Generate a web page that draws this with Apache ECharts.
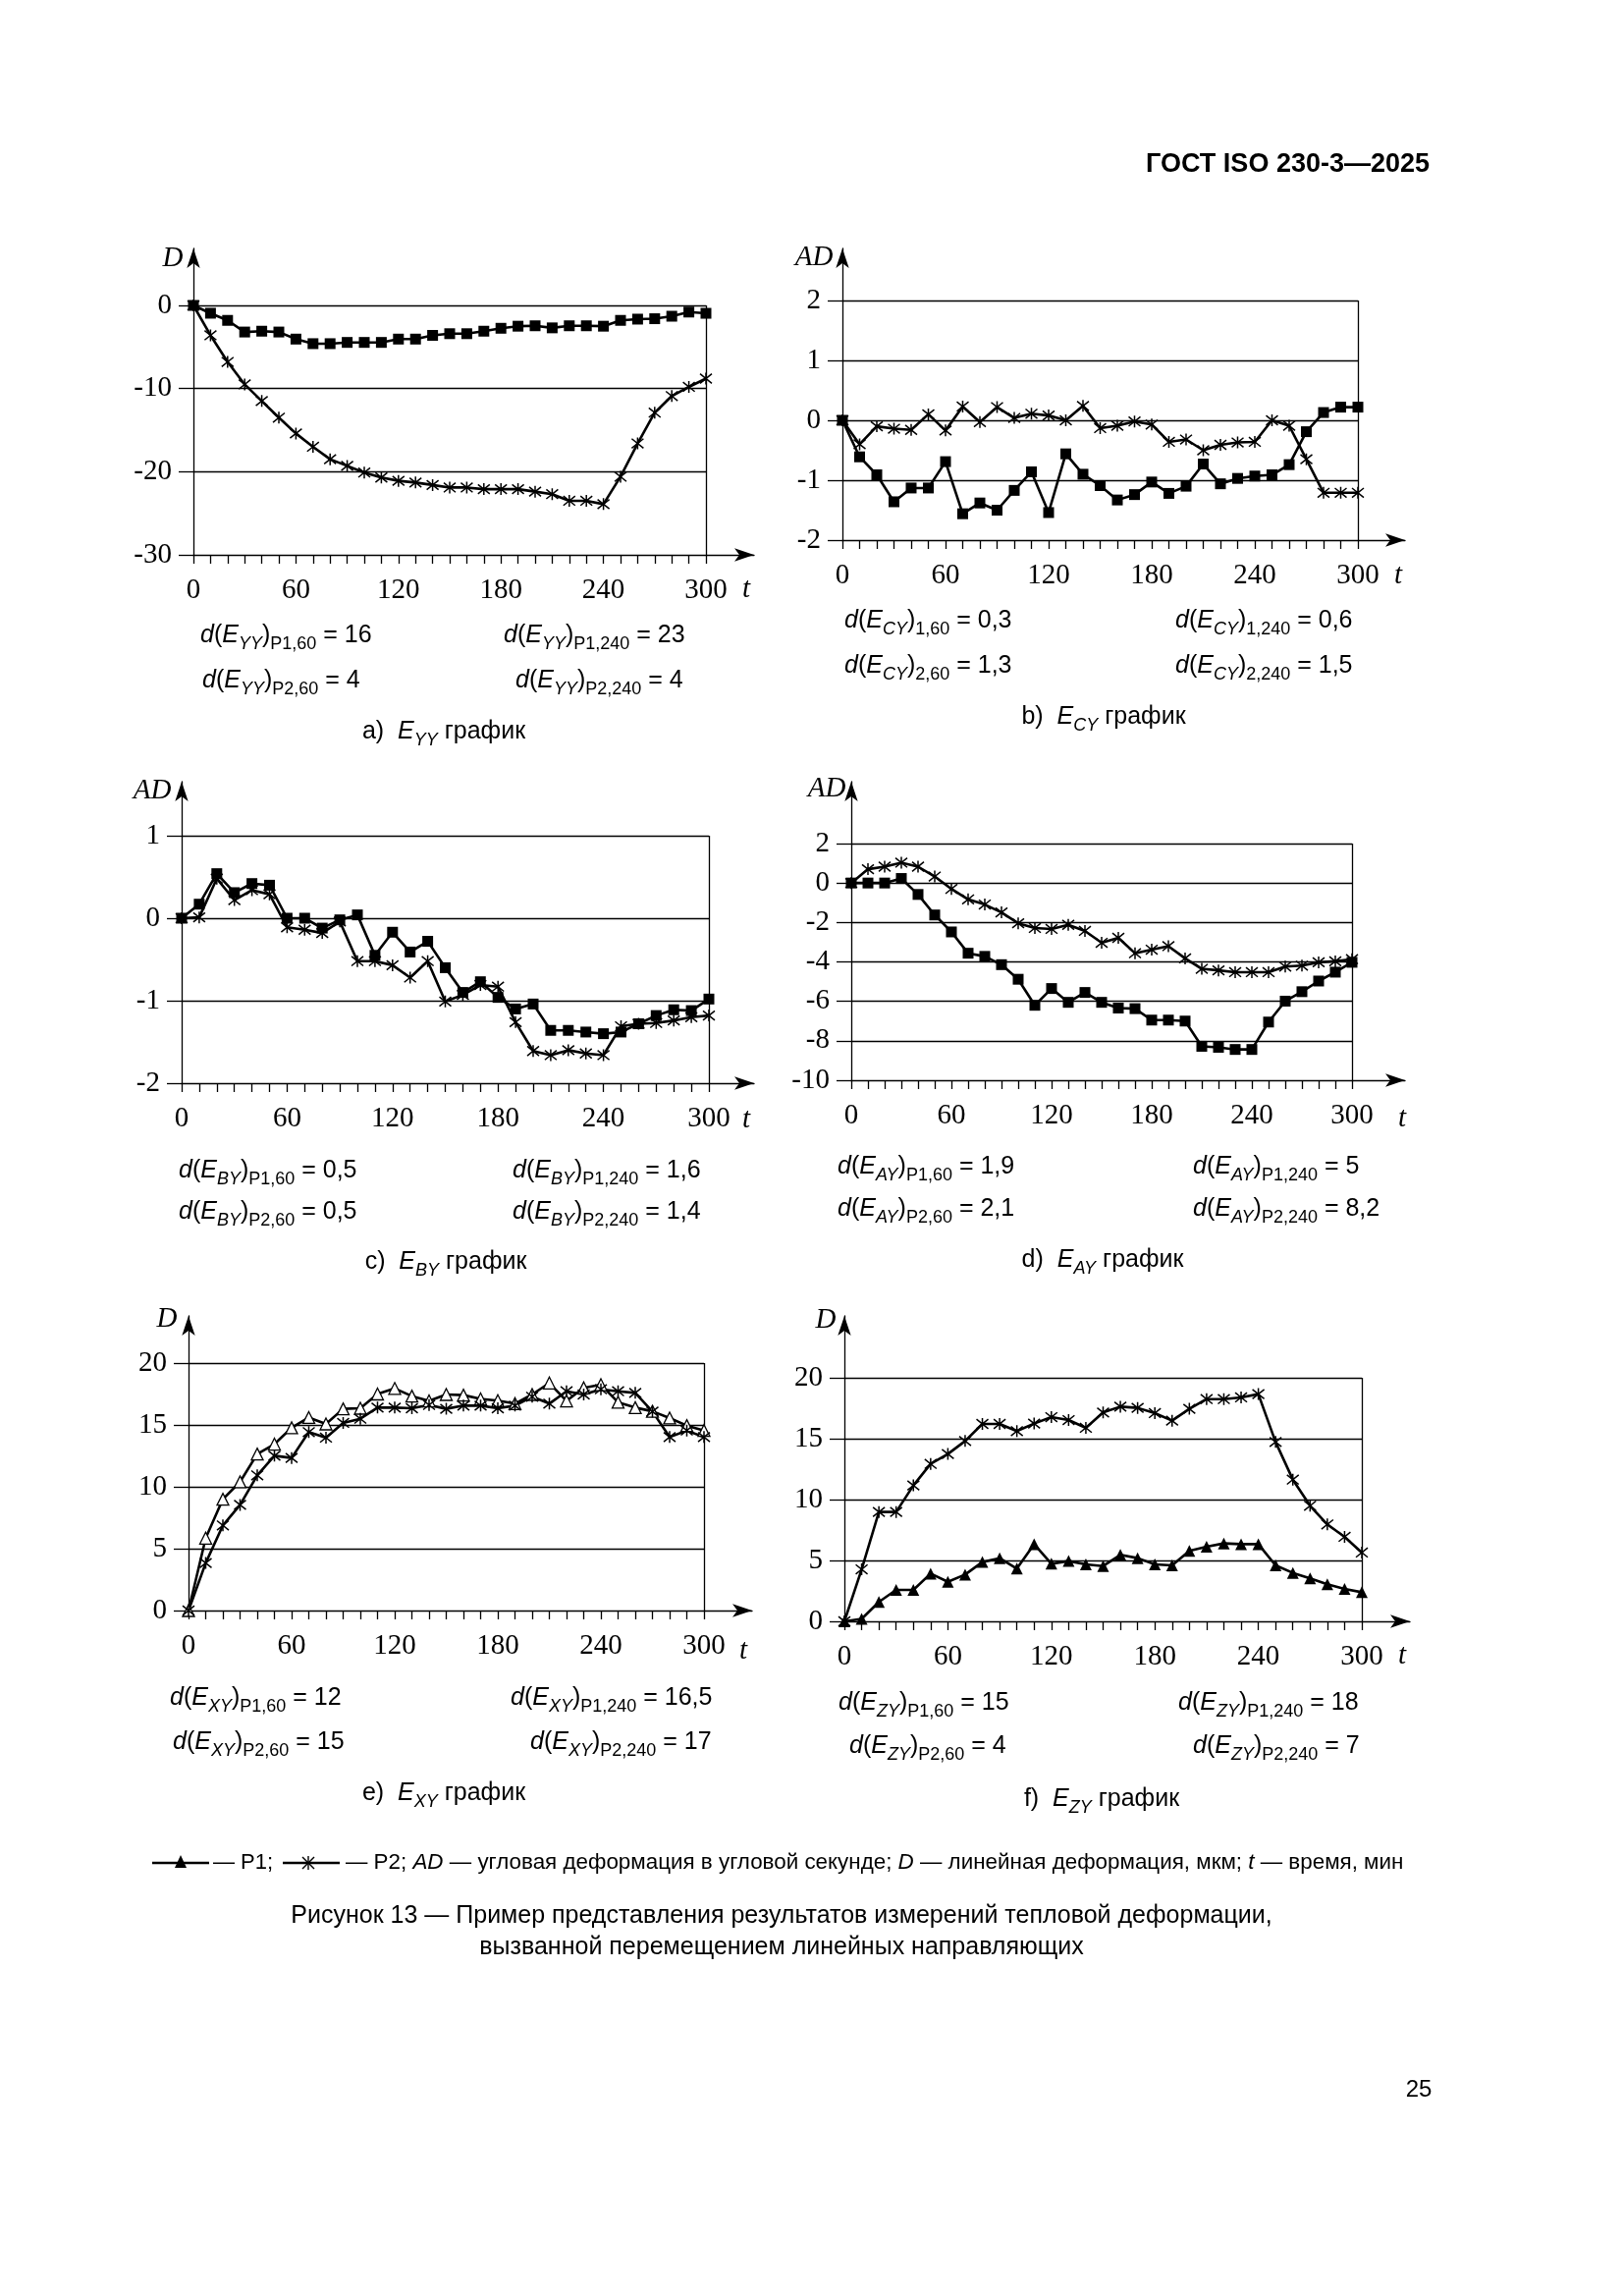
<!DOCTYPE html>
<html><head><meta charset="utf-8">
<script src="https://cdn.jsdelivr.net/npm/echarts@6/dist/echarts.min.js"></script>
<style>html,body{margin:0;padding:0;background:#fff}#c{width:1653px;height:2338px}</style>
</head><body><div id="c"></div>
<script>
// ---------- data ----------
const T = [0,10,20,30,40,50,60,70,80,90,100,110,120,130,140,150,160,170,180,190,200,210,220,230,240,250,260,270,280,290,300];
const xTickLabels = [0,60,120,180,240,300];

// a) E_YY
const aYTicks = [-30,-20,-10,0];
const aSquares = [0,-0.94,-1.8,-3.2,-3.1,-3.2,-4.05,-4.6,-4.6,-4.45,-4.45,-4.45,-4.05,-4.05,-3.6,-3.4,-3.4,-3.1,-2.75,-2.5,-2.45,-2.7,-2.45,-2.45,-2.5,-1.8,-1.65,-1.6,-1.3,-0.8,-0.95];
const aStars = [0,-3.6,-6.8,-9.5,-11.5,-13.5,-15.4,-17.0,-18.5,-19.3,-20.1,-20.7,-21.1,-21.3,-21.6,-21.9,-21.9,-22.1,-22.1,-22.1,-22.4,-22.7,-23.5,-23.5,-23.9,-20.6,-16.6,-12.9,-10.9,-9.8,-8.8];
const aNotes = ['P1,60 = 16','P1,240 = 23','P2,60 = 4','P2,240 = 4'];

// b) E_CY
const bYTicks = [-2,-1,0,1,2];
const bSquares = [0,-0.61,-0.91,-1.36,-1.13,-1.13,-0.69,-1.56,-1.38,-1.50,-1.17,-0.86,-1.54,-0.56,-0.90,-1.09,-1.33,-1.24,-1.03,-1.22,-1.10,-0.73,-1.06,-0.97,-0.93,-0.91,-0.74,-0.19,0.13,0.22,0.22];
const bStars = [0,-0.40,-0.10,-0.14,-0.16,0.10,-0.17,0.23,-0.03,0.22,0.04,0.11,0.08,0.0,0.24,-0.13,-0.09,-0.02,-0.07,-0.36,-0.32,-0.50,-0.41,-0.37,-0.36,0.0,-0.09,-0.65,-1.21,-1.21,-1.21];
const bNotes = ['1,60 = 0,3','1,240 = 0,6','2,60 = 1,3','2,240 = 1,5'];

// c) E_BY
const cYTicks = [-2,-1,0,1];
const cSquares = [0,0.17,0.54,0.31,0.42,0.40,0.0,0.0,-0.12,-0.02,0.04,-0.45,-0.17,-0.41,-0.28,-0.60,-0.90,-0.77,-0.96,-1.10,-1.04,-1.36,-1.36,-1.38,-1.40,-1.38,-1.28,-1.18,-1.11,-1.12,-0.98];
const cStars = [0,0.01,0.48,0.22,0.34,0.29,-0.11,-0.14,-0.18,-0.04,-0.52,-0.52,-0.57,-0.72,-0.52,-1.01,-0.93,-0.81,-0.83,-1.26,-1.61,-1.66,-1.60,-1.64,-1.66,-1.31,-1.28,-1.27,-1.24,-1.20,-1.18];
const cNotes = ['P1,60 = 0,5','P1,240 = 1,6','P2,60 = 0,5','P2,240 = 1,4'];

// d) E_AY
const dYTicks = [-10,-8,-6,-4,-2,0,2];
const dSquares = [0,0,0,0.23,-0.58,-1.62,-2.48,-3.56,-3.72,-4.14,-4.88,-6.2,-5.35,-6.05,-5.55,-6.05,-6.34,-6.37,-6.95,-6.95,-7.0,-8.28,-8.33,-8.44,-8.44,-7.05,-5.99,-5.51,-4.97,-4.52,-4.02];
const dStars = [0,0.70,0.83,1.03,0.83,0.33,-0.30,-0.83,-1.09,-1.49,-2.04,-2.28,-2.33,-2.12,-2.43,-3.03,-2.78,-3.56,-3.38,-3.2,-3.82,-4.35,-4.43,-4.52,-4.52,-4.52,-4.24,-4.19,-4.02,-3.97,-3.86];
const dNotes = ['P1,60 = 1,9','P1,240 = 5','P2,60 = 2,1','P2,240 = 8,2'];

// e) E_XY
const eYTicks = [0,5,10,15,20];
const eTriangles = [0,5.85,9.0,10.4,12.65,13.45,14.77,15.6,15.08,16.3,16.35,17.5,17.95,17.33,16.94,17.46,17.41,17.1,16.96,16.72,17.46,18.39,16.94,18.0,18.25,16.83,16.4,16.1,15.56,14.95,14.55];
const eStars = [0,3.84,6.88,8.54,10.93,12.51,12.33,14.42,13.97,15.16,15.5,16.4,16.4,16.35,16.61,16.3,16.56,16.56,16.35,16.56,17.28,16.72,17.72,17.46,17.88,17.72,17.59,16.08,14.02,14.55,14.02];
const eNotes = ['P1,60 = 12','P1,240 = 16,5','P2,60 = 15','P2,240 = 17'];

// f) E_ZY
const fYTicks = [0,5,10,15,20];
const fStars = [0,4.27,8.98,8.98,11.16,12.93,13.74,14.81,16.21,16.21,15.62,16.24,16.77,16.53,15.89,17.15,17.63,17.53,17.1,16.48,17.45,18.25,18.25,18.39,18.66,14.73,11.64,9.49,7.96,6.94,5.65];
const fTriangles = [0,0.2,1.59,2.58,2.58,3.92,3.25,3.84,4.87,5.19,4.33,6.34,4.73,4.95,4.68,4.54,5.46,5.19,4.68,4.6,5.78,6.13,6.4,6.34,6.34,4.6,3.98,3.52,3.04,2.66,2.39];
const fNotes = ['P1,60 = 15','P1,240 = 18','P2,60 = 4','P2,240 = 7'];

// ---------- layout / style ----------
const SERIF = "'Liberation Serif','DejaVu Serif',serif";
const SANS = "'Liberation Sans',Arial,sans-serif";
const STAR = 'path://M1,1L9,9M9,1L1,9M5,0L5,10';
const RICH = {
  n:{fontFamily:SANS, fontSize:25, color:'#000', lineHeight:36, verticalAlign:'middle'},
  i:{fontFamily:SANS, fontSize:25, fontStyle:'italic', color:'#000', lineHeight:36, verticalAlign:'middle'},
  s:{fontFamily:SANS, fontSize:18, color:'#000', lineHeight:19, verticalAlign:'bottom'},
  si:{fontFamily:SANS, fontSize:18, fontStyle:'italic', color:'#000', lineHeight:19, verticalAlign:'bottom'}
};

const panels = [
  {letter:'a', E:'YY', yName:'D',  yTicks:aYTicks, notes:aNotes, L:{x0:197,x1:719,yT:311,yB:565,extR:49,extU:58},
   nameXY:[176,263], tXY:[760,600], notePos:[[204,647],[513,647],[206,693],[525,693]], cap:[452,745],
   series:[{d:aSquares,k:'square'},{d:aStars,k:'star'}]},
  {letter:'b', E:'CY', yName:'AD', yTicks:bYTicks, notes:bNotes, L:{x0:858,x1:1383,yT:306,yB:550,extR:48,extU:53},
   nameXY:[829,262], tXY:[1424,586], notePos:[[860,632],[1197,632],[860,678],[1197,678]], cap:[1124,730],
   series:[{d:bSquares,k:'square'},{d:bStars,k:'star'}]},
  {letter:'c', E:'BY', yName:'AD', yTicks:cYTicks, notes:cNotes, L:{x0:185,x1:722,yT:851,yB:1103,extR:46,extU:55},
   nameXY:[155,805], tXY:[760,1140], notePos:[[182,1192],[522,1192],[182,1234],[522,1234]], cap:[454,1285],
   series:[{d:cSquares,k:'square'},{d:cStars,k:'star'}]},
  {letter:'d', E:'AY', yName:'AD', yTicks:dYTicks, notes:dNotes, L:{x0:867,x1:1377,yT:859,yB:1100,extR:54,extU:63},
   nameXY:[842,803], tXY:[1428,1139], notePos:[[853,1188],[1215,1188],[853,1231],[1215,1231]], cap:[1123,1283],
   series:[{d:dSquares,k:'square'},{d:dStars,k:'star'}]},
  {letter:'e', E:'XY', yName:'D',  yTicks:eYTicks, notes:eNotes, L:{x0:192,x1:717,yT:1388,yB:1640,extR:49,extU:48},
   nameXY:[170,1343], tXY:[757,1681], notePos:[[173,1729],[520,1729],[176,1774],[540,1774]], cap:[452,1826],
   series:[{d:eTriangles,k:'triOpen'},{d:eStars,k:'star'}]},
  {letter:'f', E:'ZY', yName:'D',  yTicks:fYTicks, notes:fNotes, L:{x0:860,x1:1387,yT:1403,yB:1651,extR:49,extU:63},
   nameXY:[841,1344], tXY:[1428,1686], notePos:[[854,1734],[1200,1734],[865,1778],[1215,1778]], cap:[1122,1832],
   series:[{d:fStars,k:'star'},{d:fTriangles,k:'triFilled'}]}
];

const AX = {color:'#000', width:1.3};
function markerStyle(k){
  const line = {color:'#000', width:2.6};
  if (k==='square') return {symbol:'rect', symbolSize:11, itemStyle:{color:'#000'}, lineStyle:line};
  if (k==='star') return {symbol:STAR, symbolSize:12, itemStyle:{color:'#000', borderColor:'#000', borderWidth:1.5}, lineStyle:line};
  if (k==='triFilled') return {symbol:'triangle', symbolSize:12, itemStyle:{color:'#000'}, lineStyle:line};
  return {symbol:'triangle', symbolSize:12, itemStyle:{color:'#fff', borderColor:'#000', borderWidth:1.3}, lineStyle:line};
}
function txt(x,y,text,font,align){
  return {type:'text', x, y, style:{text, fill:'#000', font, align, verticalAlign:'middle', textAlign:align, textVerticalAlign:'middle'}};
}
function rtxt(x,y,text,rich,align){
  return {type:'text', x, y, style:{text, rich, align, verticalAlign:'middle', textAlign:align, textVerticalAlign:'middle'}};
}

const grid=[], xAxis=[], yAxis=[], series=[], graphic=[];
panels.forEach((p,i)=>{
  const L=p.L, bot=p.yTicks[0], top=p.yTicks[p.yTicks.length-1], step=p.yTicks[1]-p.yTicks[0];
  const pxX=(L.x1-L.x0)/300, pxY=(L.yB-L.yT)/(top-bot);
  const xmax=300+L.extR/pxX, ymax=top+L.extU/pxY;
  grid.push({left:L.x0, top:L.yT-L.extU, width:L.x1-L.x0+L.extR, height:L.yB-L.yT+L.extU});
  xAxis.push({gridIndex:i, type:'value', min:0, max:xmax, interval:60,
    axisLine:{show:true, onZero:false, symbol:['none','arrow'], symbolSize:[10,20], lineStyle:AX},
    axisTick:{show:true, customValues:T, length:9, lineStyle:AX},
    axisLabel:{show:true, customValues:xTickLabels, formatter:v=> v<=300.0001? String(v):'', margin:22,
      fontFamily:SERIF, fontSize:29, color:'#000'},
    splitLine:{show:false}, minorTick:{show:false}});
  yAxis.push({gridIndex:i, type:'value', min:bot, max:ymax, interval:step,
    axisLine:{show:true, onZero:false, symbol:['none','arrow'], symbolSize:[10,20], lineStyle:AX},
    axisTick:{show:true, customValues:p.yTicks, length:15, lineStyle:AX},
    axisLabel:{show:true, customValues:p.yTicks, formatter:v=> v<=top+1e-6? String(v):'', margin:22,
      fontFamily:SERIF, fontSize:29, color:'#000'},
    splitLine:{show:false}});
  const gl = p.yTicks.slice(1).map(v=>[{coord:[0,v]},{coord:[300,v]}]);
  gl.push([{coord:[300,bot]},{coord:[300,top]}]);
  p.series.forEach((s,k)=>{
    const st = markerStyle(s.k);
    const ser = Object.assign({type:'line', xAxisIndex:i, yAxisIndex:i, z:10, silent:true, animation:false,
      showSymbol:true, emphasis:{disabled:true}, data:T.map((t,j)=>[t,s.d[j]])}, st);
    if (k===0) ser.markLine = {silent:true, symbol:['none','none'], label:{show:false}, animation:false,
      lineStyle:{color:'#000', width:1.3, type:'solid'}, emphasis:{disabled:true}, data:gl};
    series.push(ser);
  });
  graphic.push(txt(p.nameXY[0], p.nameXY[1], p.yName, `italic 29px ${SERIF}`, 'center'));
  graphic.push(txt(p.tXY[0], p.tXY[1], 't', `italic 29px ${SERIF}`, 'center'));
  p.notes.forEach((nt,k)=>{
    const [sub,val]=nt.split(' = ');
    graphic.push(rtxt(p.notePos[k][0], p.notePos[k][1],
      `{i|d}{n|(}{i|E}{si|${p.E}}{n|)}{s|${sub}}{n| = ${val}}`, RICH, 'left'));
  });
  graphic.push(rtxt(p.cap[0], p.cap[1], `{n|${p.letter})  }{i|E}{si|${p.E}}{n| график}`, RICH, 'center'));
});

// header, legend, caption, page number
graphic.push(txt(1456, 168, 'ГОСТ ISO 230-3—2025', `bold 27px ${SANS}`, 'right'));
const LY = 1897;
graphic.push({type:'line', shape:{x1:155,y1:LY,x2:213,y2:LY}, style:{stroke:'#000', lineWidth:2.5}});
graphic.push({type:'polygon', shape:{points:[[184,LY-8],[190,LY+5],[178,LY+5]]}, style:{fill:'#000'}});
graphic.push(txt(217, LY, '— P1;', `22px ${SANS}`, 'left'));
graphic.push({type:'line', shape:{x1:288,y1:LY,x2:346,y2:LY}, style:{stroke:'#000', lineWidth:2.5}});
graphic.push({type:'line', shape:{x1:308,y1:LY-6,x2:320,y2:LY+6}, style:{stroke:'#000', lineWidth:1.4}});
graphic.push({type:'line', shape:{x1:320,y1:LY-6,x2:308,y2:LY+6}, style:{stroke:'#000', lineWidth:1.4}});
graphic.push({type:'line', shape:{x1:314,y1:LY-7,x2:314,y2:LY+7}, style:{stroke:'#000', lineWidth:1.4}});
graphic.push(rtxt(352, LY,
  '{n|— P2; }{i|AD}{n| — угловая деформация в угловой секунде; }{i|D}{n| — линейная деформация, мкм; }{i|t}{n| — время, мин}',
  {n:{fontFamily:SANS, fontSize:22.4, color:'#000'}, i:{fontFamily:SANS, fontSize:22.4, fontStyle:'italic', color:'#000'}}, 'left'));
graphic.push(txt(796, 1951, 'Рисунок 13 — Пример представления результатов измерений тепловой деформации,', `25px ${SANS}`, 'center'));
graphic.push(txt(796, 1983, 'вызванной перемещением линейных направляющих', `25px ${SANS}`, 'center'));
graphic.push(txt(1445, 2128, '25', `24px ${SANS}`, 'center'));

const chart = echarts.init(document.getElementById('c'), null, {renderer:'canvas', width:1653, height:2338});
chart.setOption({backgroundColor:'#fff', animation:false, grid, xAxis, yAxis, series, graphic});
</script>
</body></html>
